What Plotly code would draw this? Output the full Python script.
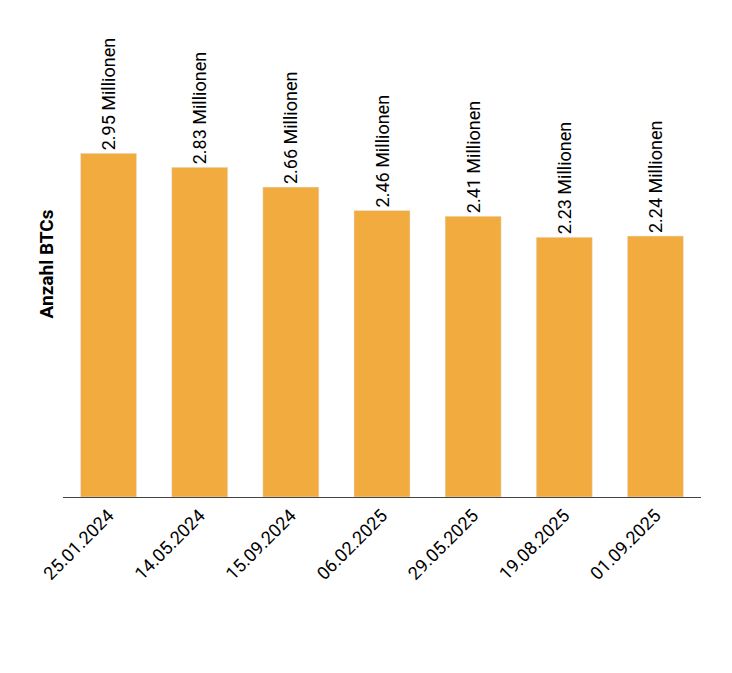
import plotly.graph_objects as go

# Anzahl BTCs auf Börsen zu verschiedenen Stichtagen
dates = ["25.01.2024", "14.05.2024", "15.09.2024", "06.02.2025",
         "29.05.2025", "19.08.2025", "01.09.2025"]
btc_millions = [2.95, 2.83, 2.66, 2.46, 2.41, 2.23, 2.24]
labels = [f"{v:.2f} Millionen" for v in btc_millions]

fig = go.Figure(go.Bar(
    x=dates,
    y=btc_millions,
    text=labels,
    textposition="outside",
    textangle=-90,
    constraintext="none",
    cliponaxis=False,
    marker_color="#F2AB3E",
    textfont=dict(size=18, color="#000000"),
    hoverinfo="x+y",
))

fig.update_layout(
    width=732, height=673,
    margin=dict(l=55, r=39, t=23, b=184),
    plot_bgcolor="white",
    paper_bgcolor="white",
    font=dict(family="Roboto, sans-serif", color="#000000"),
    bargap=0.385,
    showlegend=False,
)
fig.update_xaxes(
    type="category",
    tickangle=-45,
    tickfont=dict(size=18),
    showline=True, linecolor="#444444", linewidth=1,
    ticks="",
    showgrid=False,
)
fig.update_yaxes(
    range=[0, 4],
    title=dict(text="<b>Anzahl BTCs</b>", font=dict(size=19), standoff=3),
    showticklabels=False,
    showgrid=False,
    zeroline=False,
    ticks="",
)

fig.write_html("out.html")
